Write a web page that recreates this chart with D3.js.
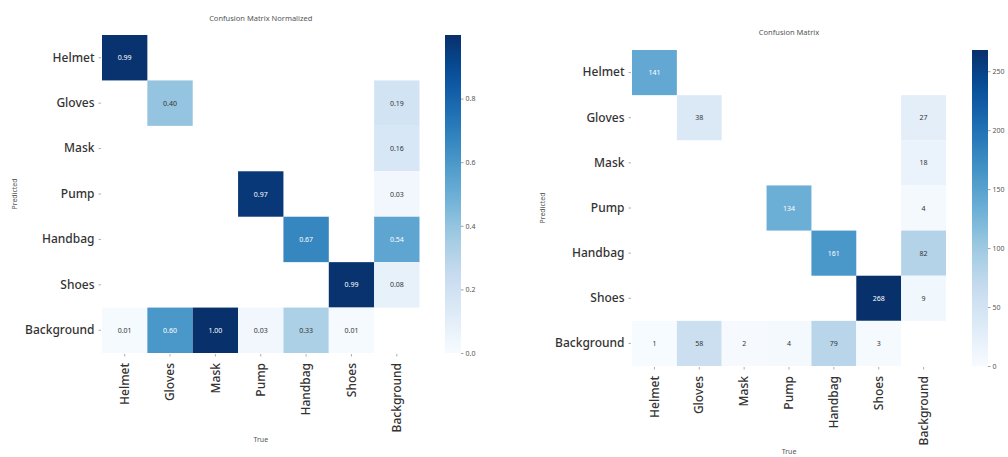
<!DOCTYPE html>
<html>
<head>
<meta charset="utf-8">
<script src="https://cdn.jsdelivr.net/npm/d3@7"></script>
<style>
  html, body { margin: 0; padding: 0; background: #fff; }
  svg { display: block; }
  .lbl { font-family: "Noto Sans", "Open Sans", sans-serif; font-weight: 500; fill: #333; }
  .small { font-family: "Noto Sans", "DejaVu Sans", sans-serif; fill: #555; }
</style>
</head>
<body>
<svg id="chart" width="1008" height="457"></svg>
<script>
// ---------- DATA ----------
const categories = ["Helmet", "Gloves", "Mask", "Pump", "Handbag", "Shoes", "Background"];

// rows = Predicted, columns = True; null = blank cell
const normHelmet     = [0.99, null, null, null, null, null, null];
const normGloves     = [null, 0.40, null, null, null, null, 0.19];
const normMask       = [null, null, null, null, null, null, 0.16];
const normPump       = [null, null, null, 0.97, null, null, 0.03];
const normHandbag    = [null, null, null, null, 0.67, null, 0.54];
const normShoes      = [null, null, null, null, null, 0.99, 0.08];
const normBackground = [0.01, 0.60, 1.00, 0.03, 0.33, 0.01, null];

const cntHelmet     = [141, null, null, null, null, null, null];
const cntGloves     = [null, 38, null, null, null, null, 27];
const cntMask       = [null, null, null, null, null, null, 18];
const cntPump       = [null, null, null, 134, null, null, 4];
const cntHandbag    = [null, null, null, null, 161, null, 82];
const cntShoes      = [null, null, null, null, null, 268, 9];
const cntBackground = [1, 58, 2, 4, 79, 3, null];

const normTicks = [0.0, 0.2, 0.4, 0.6, 0.8];
const normTickLabels = ["0.0", "0.2", "0.4", "0.6", "0.8"];
const cntTicks = [0, 50, 100, 150, 200, 250];
const cntTickLabels = ["0", "50", "100", "150", "200", "250"];

const normDomain = [0, 1.0];
const cntDomain = [0, 268];

const normMatrix = [normHelmet, normGloves, normMask, normPump, normHandbag, normShoes, normBackground];
const cntMatrix = [cntHelmet, cntGloves, cntMask, cntPump, cntHandbag, cntShoes, cntBackground];

// ---------- COLOR (matplotlib Blues) ----------
const bluesStops = ["#f7fbff","#deebf7","#c6dbef","#9ecae1","#6baed6","#4292c6","#2171b5","#08519c","#08306b"];
function bluesInterp(t) {
  t = Math.max(0, Math.min(1, t));
  const s = t * (bluesStops.length - 1);
  const i = Math.min(bluesStops.length - 2, Math.floor(s));
  return d3.interpolateRgb(bluesStops[i], bluesStops[i + 1])(s - i);
}
function lum(c) {
  const r = d3.rgb(c);
  const f = v => { v /= 255; return v <= 0.03928 ? v / 12.92 : Math.pow((v + 0.055) / 1.055, 2.4); };
  return 0.2126 * f(r.r) + 0.7152 * f(r.g) + 0.0722 * f(r.b);
}

const svg = d3.select("#chart");

function drawMatrix(cfg) {
  const g = svg.append("g");
  const x = d3.scaleBand().domain(categories).range([cfg.x0, cfg.x0 + cfg.w]).padding(0);
  const y = d3.scaleBand().domain(categories).range([cfg.y0, cfg.y0 + cfg.h]).padding(0);
  const color = d3.scaleSequential(bluesInterp).domain(cfg.domain);

  const cells = [];
  cfg.matrix.forEach((row, ri) => row.forEach((v, ci) => {
    if (v !== null) cells.push({ r: categories[ri], c: categories[ci], v });
  }));

  g.selectAll("rect.cell").data(cells).join("rect")
    .attr("class", "cell")
    .attr("x", d => x(d.c)).attr("y", d => y(d.r))
    .attr("width", x.bandwidth()).attr("height", y.bandwidth())
    .attr("fill", d => color(d.v));

  g.selectAll("text.ann").data(cells).join("text")
    .attr("class", "small")
    .attr("x", d => x(d.c) + x.bandwidth() / 2)
    .attr("y", d => y(d.r) + y.bandwidth() / 2)
    .attr("text-anchor", "middle").attr("dominant-baseline", "central")
    .attr("font-size", 7)
    .style("fill", d => lum(color(d.v)) < 0.408 ? "#ffffff" : "#333333")
    .text(d => cfg.fmt(d.v));

  // Y axis
  const ya = d3.axisLeft(y).tickSize(2.5).tickPadding(4);
  const yg = g.append("g").attr("transform", `translate(${cfg.x0 - 1},0)`).call(ya);
  yg.select(".domain").remove();
  yg.selectAll("line").attr("stroke", "#999").attr("stroke-width", 0.8);
  yg.selectAll("text").attr("class", "lbl").attr("font-size", 12).style("fill", "#333");

  // X axis
  const xa = d3.axisBottom(x).tickSize(2.5).tickPadding(4);
  const xg = g.append("g").attr("transform", `translate(0,${cfg.y0 + cfg.h + 1})`).call(xa);
  xg.select(".domain").remove();
  xg.selectAll("line").attr("stroke", "#999").attr("stroke-width", 0.8);
  xg.selectAll("text").attr("class", "lbl").attr("font-size", 12).style("fill", "#333")
    .attr("transform", "rotate(-90)")
    .attr("text-anchor", "end")
    .attr("dy", "0.35em")
    .attr("x", -9).attr("y", 0);

  // Titles
  g.append("text").attr("class", "small").attr("font-size", 7.5)
    .attr("x", cfg.x0 + cfg.w / 2).attr("y", cfg.titleY)
    .attr("text-anchor", "middle").text(cfg.title);
  g.append("text").attr("class", "small").attr("font-size", 7)
    .attr("x", cfg.x0 + cfg.w / 2).attr("y", cfg.xTitleY)
    .attr("text-anchor", "middle").text("True");
  g.append("text").attr("class", "small").attr("font-size", 7)
    .attr("transform", `translate(${cfg.yTitleX},${cfg.y0 + cfg.h / 2}) rotate(-90)`)
    .attr("text-anchor", "middle").text("Predicted");

  // Colorbar
  const gid = "grad" + cfg.id;
  const grad = svg.append("defs").append("linearGradient").attr("id", gid)
    .attr("x1", 0).attr("y1", 1).attr("x2", 0).attr("y2", 0);
  d3.range(0, 1.0001, 0.05).forEach(t => {
    grad.append("stop").attr("offset", t).attr("stop-color", bluesInterp(t));
  });
  g.append("rect").attr("x", cfg.cbX).attr("y", cfg.y0).attr("width", cfg.cbW).attr("height", cfg.h)
    .attr("fill", `url(#${gid})`);
  const cy = d3.scaleLinear().domain(cfg.domain).range([cfg.y0 + cfg.h, cfg.y0]);
  const ca = d3.axisRight(cy).tickValues(cfg.ticks).tickFormat((d, i) => cfg.tickLabels[i]).tickSize(2.5).tickPadding(2);
  const cg = g.append("g").attr("transform", `translate(${cfg.cbX + cfg.cbW},0)`).call(ca);
  cg.select(".domain").remove();
  cg.selectAll("line").attr("stroke", "#888").attr("stroke-width", 0.8);
  cg.selectAll("text").attr("class", "small").attr("font-size", 7).style("fill", "#555");
}

drawMatrix({
  id: "L", matrix: normMatrix, domain: normDomain,
  ticks: normTicks, tickLabels: normTickLabels,
  fmt: v => v.toFixed(2),
  x0: 102, y0: 35, w: 317.5, h: 318,
  cbX: 445, cbW: 16,
  title: "Confusion Matrix Normalized", titleY: 21, xTitleY: 442, yTitleX: 17
});

drawMatrix({
  id: "R", matrix: cntMatrix, domain: cntDomain,
  ticks: cntTicks, tickLabels: cntTickLabels,
  fmt: v => String(v),
  x0: 632, y0: 50, w: 314, h: 316,
  cbX: 972, cbW: 16,
  title: "Confusion Matrix", titleY: 35, xTitleY: 454, yTitleX: 545
});
</script>
</body>
</html>
